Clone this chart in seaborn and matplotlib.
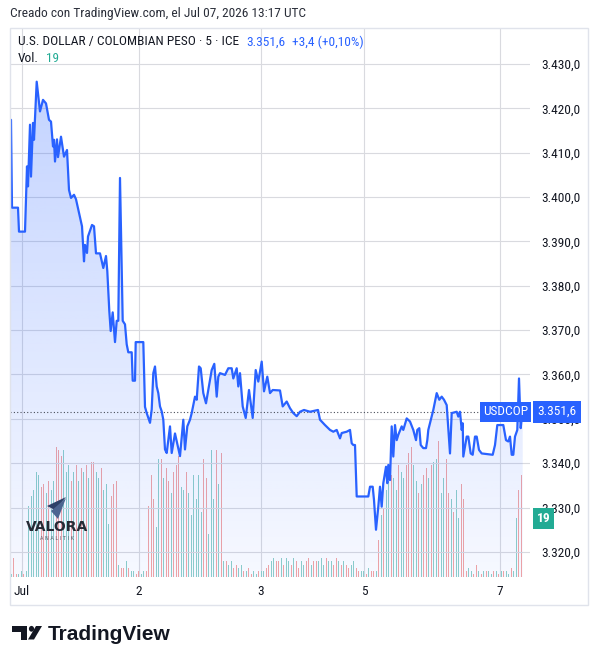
import numpy as np
import seaborn as sns
import matplotlib.pyplot as plt
from matplotlib import font_manager as fm
from matplotlib.patches import PathPatch, Rectangle, Polygon, Circle
from matplotlib.ticker import FuncFormatter

# USD/COP 5-min closes, x = bar slot on the compressed session axis
price_x = [1, 2, 8, 9, 15, 17, 18, 20, 21, 23, 24, 26.7, 30, 33, 36, 39, 41, 43, 44, 45,
           47, 48, 51, 54, 57, 59, 61, 64, 66, 72, 74, 75, 77, 78, 82, 84, 86, 90, 93.3, 96,
           97.3, 99.3, 100.7, 102.7, 105, 106.7, 108.3, 110, 112.7, 115, 116.7, 118.3, 121.7, 122.7, 125, 125.7,
           133.3, 135, 136.7, 140, 141.7, 143.3, 145, 146.7, 148.3, 150, 151.7, 153.3, 155, 156.7,
           160, 161.7, 165, 170, 173.3, 175, 177.3, 180, 181.7, 185, 186.7, 189, 190.7, 193.3,
           196, 198.3, 201.7, 204.3, 206.7, 208.3, 210, 215, 218.3, 221.7, 223.3, 226.7, 228.3, 230,
           232.7, 235.7, 239, 242.7, 245.7, 248.3, 251.7, 254, 257.3, 260, 262.7, 270, 272.7, 276.7,
           280, 283.3, 286.7, 290, 294, 300, 308, 310, 315, 320, 323.3, 326.7, 330, 331.7,
           336.7, 340, 341.7, 343.3, 345, 346.7, 358.3, 360, 362.7, 364, 366, 368.3, 370, 371.7,
           373.3, 376, 377.3, 378.3, 380, 381.7, 383.3, 385, 386.7, 388.3, 391.7, 393.3, 396.7, 400,
           403.3, 406, 407.3, 409.3, 410.7, 413.3, 416, 417.3, 418.3, 423.3, 426.7, 429.3, 431.7, 434,
           436.7, 440, 441.7, 446.7, 448.3, 450, 451.7, 452.7, 453.3, 456.7, 458.3, 460.7, 462.7, 465,
           466.7, 469, 471.7, 482.7, 485, 487.3, 493.3, 496, 498.3, 500, 501.7, 503.3, 505, 507.3,
           509, 510.7, 511.7, 512.7]
price_y = [3417.4, 3397.6, 3397.6, 3392.2, 3392.2, 3406.9, 3402.4, 3416.3, 3404.6, 3416.7, 3412.9, 3426.0, 3419.3, 3421.9, 3421.1, 3417.4, 3417.0, 3411.4, 3412.9, 3408.0,
           3413.0, 3409.0, 3413.6, 3409.1, 3410.6, 3401.6, 3399.8, 3400.5, 3399.5, 3393.4, 3385.5, 3389.2, 3387.4, 3391.1, 3393.7, 3393.4, 3387.3, 3387.3, 3384.0, 3386.7,
           3383.3, 3374.3, 3369.8, 3374.0, 3367.3, 3372.1, 3372.1, 3404.3, 3372.1, 3371.3, 3366.8, 3365.0, 3365.0, 3358.6, 3358.6, 3367.3,
           3367.3, 3352.7, 3351.3, 3349.1, 3352.1, 3360.3, 3361.8, 3357.3, 3355.8, 3352.8, 3351.7, 3349.8, 3343.1, 3342.3,
           3348.3, 3342.3, 3346.7, 3341.6, 3349.8, 3343.1, 3348.3, 3349.8, 3351.3, 3355.0, 3354.3, 3361.8, 3361.4, 3355.8,
           3353.5, 3356.5, 3361.0, 3362.4, 3355.0, 3359.5, 3360.3, 3359.9, 3361.4, 3361.4, 3359.1, 3361.4, 3357.3, 3360.3,
           3352.8, 3350.2, 3356.5, 3350.2, 3361.0, 3358.4, 3362.9, 3356.2, 3359.5, 3355.8, 3356.5, 3356.4, 3352.8, 3353.9,
           3352.4, 3351.3, 3350.6, 3351.6, 3352.0, 3351.6, 3352.0, 3349.8, 3348.6, 3347.5, 3347.1, 3347.5, 3345.6, 3346.8,
           3347.1, 3347.5, 3344.5, 3344.1, 3344.1, 3332.5, 3332.5, 3334.7, 3334.7, 3331.7, 3325.0, 3330.2, 3334.7, 3330.2,
           3335.5, 3339.2, 3335.5, 3339.6, 3336.2, 3348.3, 3341.5, 3348.6, 3345.2, 3346.4, 3348.3, 3347.5, 3350.1, 3349.4,
           3347.5, 3345.2, 3347.5, 3347.9, 3344.1, 3343.4, 3343.4, 3345.2, 3347.5, 3352.0, 3355.8, 3354.3, 3355.0, 3354.3,
           3353.1, 3342.2, 3351.3, 3351.6, 3350.5, 3351.6, 3347.5, 3349.0, 3341.5, 3346.0, 3346.0, 3342.2, 3341.9, 3346.0,
           3346.0, 3343.0, 3342.2, 3341.9, 3344.1, 3348.6, 3348.6, 3345.2, 3344.9, 3346.0, 3341.9, 3341.9, 3346.0, 3347.5,
           3359.1, 3347.9, 3350.1, 3351.6]

# volume per 5-min bar, session by session; u = up bar, d = down bar
vol_jul1_pre = [1, 6, 1, 1, 2, 1, 2]
vol_jul1 = [23, 26, 28, 34, 33, 29, 30, 27, 31, 28, 31, 42, 41, 39, 41, 34, 36, 31,
            34, 36, 31, 35, 34, 36, 32, 37, 37, 34, 32, 35, 28, 30, 17, 26, 30, 31]
vol_jul2_pre = [4, 3, 3, 5, 3, 2, 2, 1, 2, 1, 2, 2]
vol_jul2 = [23, 33, 25, 16, 38, 38, 32, 35, 31, 27, 34, 36, 39, 29, 28,
            34, 27, 20, 33, 25, 33, 21, 38, 32, 14, 41, 25, 41, 30, 40]
vol_quiet = [5, 5, 4, 5, 3, 4, 3, 4, 2, 2, 3, 1, 2, 1, 2, 2, 2,
             3, 4, 5, 6, 5, 5, 6, 4, 6, 5, 4, 6, 5, 3, 5,
             4, 5, 6, 4, 5, 5, 5, 6, 4, 6, 5, 5, 4, 6, 5, 4, 5, 4, 3, 4, 5, 3,
             2, 2, 2, 1, 3, 2, 2, 2]
vol_jul6 = [12, 20, 22, 28, 31, 33, 32, 28, 36, 34, 32, 36, 40, 42, 36, 31, 27, 30,
            33, 35, 32, 36, 37, 38, 44, 27, 32, 38, 27, 25, 21, 28, 19, 30, 25]
vol_jul7_pre = [2, 3, 2, 1, 4, 2, 1, 2, 2, 2, 1, 2, 2, 1, 2, 2, 2, 1, 3, 2]
vol_jul7 = [19, 28, 33]
dir_jul1_pre = "udduudu"
dir_jul1 = "uuuuudduduuddduuudududududduuduuuddd"
dir_jul2_pre = "udduduudduud"
dir_jul2 = "ddduududdudddu" + "uduuuuuuddu" + "uudud"
dir_quiet = "uduudduudu" "dduuduuddu" "udduduudud" "duuddudduu" "uduuddudud" "duudduududdu"
dir_jul6 = "duduuduudu" "uddduududd" "uduuduuddu" "duudd"
dir_jul7_pre = "duuddududuudududuudu"
dir_jul7 = "udd"

volume = vol_jul1_pre + vol_jul1 + vol_jul2_pre + vol_jul2 + vol_quiet + vol_jul6 + vol_jul7_pre + vol_jul7
vol_dir = dir_jul1_pre + dir_jul1 + dir_jul2_pre + dir_jul2 + dir_quiet + dir_jul6 + dir_jul7_pre + dir_jul7

day_pos = [11.7, 129, 251, 354, 490]
day_labels = ["Jul", "2", "3", "5", "7"]
price_ticks = [3320, 3330, 3340, 3350, 3360, 3370, 3380, 3390, 3400, 3410, 3420, 3430]
last_price = 3351.6
last_volume = 19
symbol = "USDCOP"
title = "U.S. DOLLAR / COLOMBIAN PESO · 5 · ICE"
change = "+3,4 (+0,10%)"
stamp = "Creado con TradingView.com, el Jul 07, 2026 13:17 UTC"

BLUE = "#2962FF"
TEAL = "#22ab94"
UP, DOWN = "#8fd0c9", "#f4a5a3"
GRID = "#d9dadf"
INK = "#131722"


def pick(*names):
    for n in names:
        try:
            fm.findfont(fm.FontProperties(family=n), fallback_to_default=False)
            return n
        except ValueError:
            pass
    return "DejaVu Sans"


def cop(v):
    return f"{v:,.1f}".replace(",", "X").replace(".", ",").replace("X", ".")


sns.set_style("white")
ui_font = pick("Liberation Sans Narrow", "DejaVu Sans Condensed", "Roboto Condensed", "Liberation Sans")
plt.rcParams["font.family"] = [ui_font, "DejaVu Sans"]
FS = 9.6 if ui_font != "Liberation Sans" else 8.6

W, H = 598, 664
fig = plt.figure(figsize=(W / 100, H / 100), dpi=100)


def fx(px):
    return px / W


def fy(py):
    return 1 - py / H


L, R, T, B = 10, 530, 28, 577
ax = fig.add_axes([fx(L), fy(B), (R - L) / W, (B - T) / H])

# volume (background)
vol_x = 1.25 + 2.5 * np.arange(len(volume))
ax.bar(vol_x, volume, width=1.1, color=[UP if d == "u" else DOWN for d in vol_dir], linewidth=0)
ax.set_ylim(0, 177)
ax.set_xlim(0, R - L)
ax.set_yticks([])
ax.set_xticks(day_pos)
ax.set_xticklabels(day_labels)
ax.tick_params(axis="x", length=0, pad=6, labelsize=FS, colors=INK)
ax.grid(axis="x", color=GRID, lw=0.8)
ax.set_axisbelow(True)
for s in ax.spines.values():
    s.set_visible(False)

# price
axp = ax.twinx()
ylo, yhi = 3314.35, 3438.1
fill = axp.fill_between(price_x, price_y, ylo, color="none", lw=0)
clip = PathPatch(fill.get_paths()[0], transform=axp.transData, fc="none", ec="none")
axp.add_patch(clip)
grad = np.zeros((256, 1, 4))
grad[..., 0], grad[..., 1], grad[..., 2] = 41 / 255, 98 / 255, 1.0
grad[:, 0, 3] = np.linspace(0.04, 0.28, 256)
im = axp.imshow(grad, extent=[0, R - L, ylo, max(price_y)], aspect="auto", origin="lower", zorder=1)
im.set_clip_path(clip)

sns.lineplot(x=price_x, y=price_y, ax=axp, color=BLUE, lw=1.6, estimator=None, sort=False, zorder=3)
axp.axhline(last_price, ls=(0, (1, 2)), color="#4a4e5a", lw=0.8, zorder=2)

axp.set_xlim(0, R - L)
axp.set_ylim(ylo, yhi)
axp.set_yticks(price_ticks)
axp.yaxis.set_major_formatter(FuncFormatter(lambda v, _: cop(v)))
axp.tick_params(axis="y", length=0, pad=8, labelsize=FS, colors=INK)
axp.grid(axis="y", color=GRID, lw=0.8)
axp.set_axisbelow(True)
axp.set_ylabel("")
for s in axp.spines.values():
    s.set_visible(False)

box = dict(boxstyle="square,pad=0.25", fc=BLUE, ec="none")
axp.annotate(symbol, xy=(505.5, last_price), xycoords=("figure pixels", "data"), ha="center", va="center",
             color="white", fontsize=FS, bbox=box, zorder=10, annotation_clip=False)
axp.annotate(cop(last_price), xy=(557, last_price),
             xycoords=("figure pixels", "data"), ha="center", va="center",
             color="white", fontsize=FS, bbox=dict(box, boxstyle="square,pad=0.33"), zorder=10, annotation_clip=False)
axp.annotate(str(last_volume), xy=(543.5, last_volume), xycoords=("figure pixels", ax.transData), ha="center", va="center",
             color="white", fontsize=FS, fontweight="bold", bbox=dict(boxstyle="square,pad=0.3", fc=TEAL, ec="none"),
             zorder=10, annotation_clip=False)

# frame + header
fig.patches.append(Rectangle((fx(10), fy(605)), (588 - 10) / W, (605 - 28) / H, transform=fig.transFigure,
                             fill=False, ec="#e0e3eb", lw=1))
fig.text(fx(10), fy(14), stamp, fontsize=FS, color="#2a2e39", va="center")
fig.text(fx(18), fy(42), title, fontsize=FS, color=INK, va="center")
fig.text(fx(246), fy(42), cop(last_price), fontsize=FS, color=BLUE, va="center")
fig.text(fx(292), fy(42), change, fontsize=FS, color=BLUE, va="center")
fig.text(fx(18), fy(59), "Vol.", fontsize=FS, color=INK, va="center")
fig.text(fx(46), fy(59), str(last_volume), fontsize=FS, color=TEAL, va="center")

# Valora Analitik watermark
fig.patches.append(Polygon([(fx(47), fy(506)), (fx(66), fy(497)), (fx(55), fy(510))], closed=True,
                           transform=fig.transFigure, fc="#2d4068", ec="none"))
fig.patches.append(Polygon([(fx(51), fy(511)), (fx(66), fy(498)), (fx(58), fy(519))], closed=True,
                           transform=fig.transFigure, fc="#4c6490", ec="none"))
fig.text(fx(57), fy(527), "VALORA", fontsize=10, fontweight="bold", family="DejaVu Sans", color="#262a35",
         ha="center", va="center")
fig.text(fx(57), fy(538), "A N A L I T I K", fontsize=3.6, family="DejaVu Sans", color="#555a66",
         ha="center", va="center")

# TradingView logo
fig.patches.append(Polygon([(fx(12), fy(626)), (fx(27.3), fy(626)), (fx(27.3), fy(639.5)), (fx(20.5), fy(639.5)),
                            (fx(20.5), fy(632)), (fx(12), fy(632))], closed=True, transform=fig.transFigure,
                           fc=INK, ec="none"))
fig.patches.append(Circle((fx(31.5), fy(628.8)), 2.6 / W, transform=fig.transFigure, fc=INK, ec="none"))
fig.patches.append(Polygon([(fx(36), fy(626)), (fx(42), fy(626)), (fx(34), fy(639.5)), (fx(28), fy(639.5))],
                           closed=True, transform=fig.transFigure, fc=INK, ec="none"))
fig.text(fx(48), fy(634), "TradingView", fontsize=15, fontweight="bold", family="Liberation Sans", color=INK,
         va="center")

fig.savefig("out.png", dpi=100)
